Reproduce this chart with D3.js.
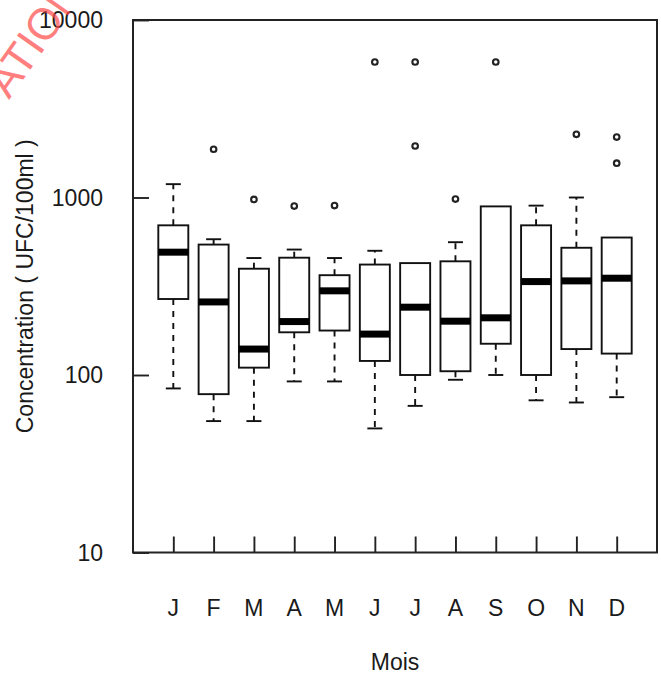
<!DOCTYPE html>
<html>
<head>
<meta charset="utf-8">
<script src="https://cdn.jsdelivr.net/npm/d3@7"></script>
<style>
  html, body { margin: 0; padding: 0; background: #fff; }
  svg { display: block; }
  text { font-family: "Liberation Sans", Arial, sans-serif; fill: #1a1a1a; }
</style>
</head>
<body>
<svg id="chart"></svg>
<script>
// données (UFC/100ml)
const months = ["J", "F", "M", "A", "M", "J", "J", "A", "S", "O", "N", "D"];
const whiskerLow = [84, 55, 55, 92, 92, 50, 67, 94, 100, 72, 70, 75];
const q1 = [268, 78, 110, 174, 178, 120, 100, 105, 150, 100, 140, 132];
const median = [492, 258, 140, 200, 298, 170, 241, 201, 210, 336, 339, 351];
const q3 = [697, 543, 397, 458, 365, 419, 427, 437, 891, 697, 521, 595];
const whiskerHigh = [1189, 582, 456, 509, 456, 501, 427, 560, 891, 900, 1000, 595];
const outliers = [[], [1870], [975], [895], [900], [5800], [5800, 1950], [980], [5800], [], [2270], [2190, 1560]];
const yTicks = [10, 100, 1000, 10000];

const width = 661;
const height = 677;
const svg = d3.select("#chart").attr("width", width).attr("height", height);

const left = 133, right = 657;
const x = d3.scaleLinear().domain([0, months.length + 1]).range([left, right]);
const y = d3.scaleLog().domain([10, 10000]).range([552.5, 20]);

const boxW = 30;
const capW = 15;
const fontSize = 23;
const lw = 1.9;

const boxes = months.map((m, i) => ({
  pos: i + 1,
  lo: whiskerLow[i], q1: q1[i], med: median[i], q3: q3[i], hi: whiskerHigh[i],
  out: outliers[i]
}));

// cadre
svg.append("rect")
  .attr("x", left).attr("y", y(10000))
  .attr("width", right - left).attr("height", y(10) - y(10000))
  .attr("fill", "none").attr("stroke", "#222").attr("stroke-width", 2);

// axe Y (graduations vers l'intérieur)
const yAxis = d3.axisRight(y).tickValues(yTicks).tickSize(16).tickFormat("");
svg.append("g")
  .attr("transform", `translate(${left},0)`)
  .call(yAxis)
  .call(g => g.select(".domain").remove())
  .call(g => g.selectAll("line").attr("stroke", "#222").attr("stroke-width", lw));

svg.append("g").selectAll("text")
  .data(yTicks)
  .join("text")
  .attr("x", 103)
  .attr("y", d => y(d))
  .attr("dy", "0.36em")
  .attr("text-anchor", "end")
  .attr("font-size", fontSize)
  .text(d => d);

// axe X (graduations vers le haut)
const xAxis = d3.axisTop(x).tickValues(boxes.map(d => d.pos)).tickSize(16).tickFormat("");
svg.append("g")
  .attr("transform", `translate(0,${y(10)})`)
  .call(xAxis)
  .call(g => g.select(".domain").remove())
  .call(g => g.selectAll("line").attr("stroke", "#222").attr("stroke-width", lw));

svg.append("g").selectAll("text")
  .data(boxes)
  .join("text")
  .attr("x", d => x(d.pos))
  .attr("y", 615.5)
  .attr("text-anchor", "middle")
  .attr("font-size", fontSize)
  .text((d, i) => months[i]);

// boîtes
const g = svg.append("g");
const box = g.selectAll(".box")
  .data(boxes)
  .join("g")
  .attr("class", "box");

// moustaches en pointillé
box.append("line")
  .attr("x1", d => x(d.pos)).attr("x2", d => x(d.pos))
  .attr("y1", d => y(d.q3)).attr("y2", d => y(d.hi))
  .attr("stroke", "#111").attr("stroke-width", lw).attr("stroke-dasharray", "6,6");
box.append("line")
  .attr("x1", d => x(d.pos)).attr("x2", d => x(d.pos))
  .attr("y1", d => y(d.q1)).attr("y2", d => y(d.lo))
  .attr("stroke", "#111").attr("stroke-width", lw).attr("stroke-dasharray", "6,6");

// extrémités
box.filter(d => d.hi > d.q3).append("line")
  .attr("x1", d => x(d.pos) - capW / 2).attr("x2", d => x(d.pos) + capW / 2)
  .attr("y1", d => y(d.hi)).attr("y2", d => y(d.hi))
  .attr("stroke", "#111").attr("stroke-width", lw);
box.filter(d => d.lo < d.q1).append("line")
  .attr("x1", d => x(d.pos) - capW / 2).attr("x2", d => x(d.pos) + capW / 2)
  .attr("y1", d => y(d.lo)).attr("y2", d => y(d.lo))
  .attr("stroke", "#111").attr("stroke-width", lw);

box.append("rect")
  .attr("x", d => x(d.pos) - boxW / 2)
  .attr("y", d => y(d.q3))
  .attr("width", boxW)
  .attr("height", d => y(d.q1) - y(d.q3))
  .attr("fill", "#fff").attr("stroke", "#111").attr("stroke-width", lw);

// médiane
box.append("line")
  .attr("x1", d => x(d.pos) - boxW / 2).attr("x2", d => x(d.pos) + boxW / 2)
  .attr("y1", d => y(d.med)).attr("y2", d => y(d.med))
  .attr("stroke", "#000").attr("stroke-width", 7);

// valeurs extrêmes
box.selectAll(".out")
  .data(d => d.out.map(v => ({ pos: d.pos, v })))
  .join("circle")
  .attr("class", "out")
  .attr("cx", d => x(d.pos)).attr("cy", d => y(d.v))
  .attr("r", 2.8)
  .attr("fill", "none").attr("stroke", "#222").attr("stroke-width", 2.1);

// titres des axes
svg.append("text")
  .attr("x", (left + right) / 2)
  .attr("y", 670)
  .attr("text-anchor", "middle")
  .attr("font-size", fontSize)
  .text("Mois");

svg.append("text")
  .attr("transform", `translate(33,${(y(10) + y(10000)) / 2}) rotate(-90)`)
  .attr("text-anchor", "middle")
  .attr("font-size", fontSize)
  .text("Concentration ( UFC/100ml )");

// filigrane rouge en haut à gauche
svg.append("text")
  .attr("transform", "translate(9,100) rotate(-55)")
  .attr("font-size", 44)
  .style("fill", "#ff4a4a")
  .attr("opacity", 0.7)
  .text("ATION");
</script>
</body>
</html>
